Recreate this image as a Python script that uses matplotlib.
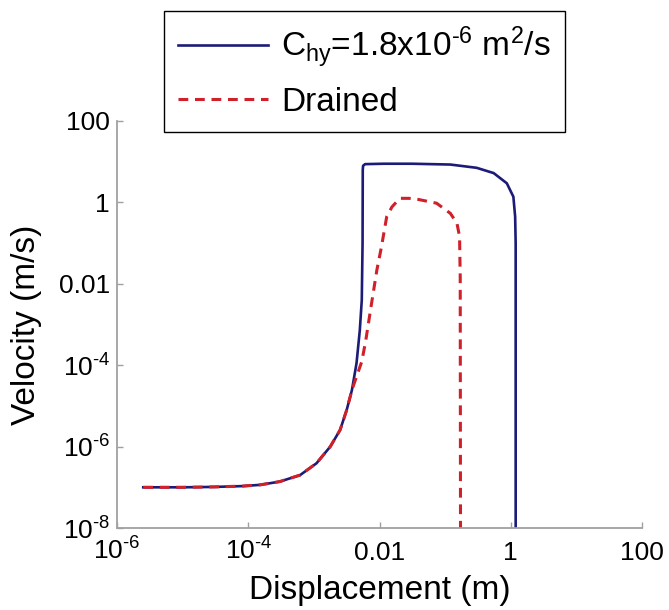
import numpy as np
import matplotlib
matplotlib.use("Agg")
import matplotlib.pyplot as plt

plt.rcParams['font.family'] = ['Liberation Sans', 'DejaVu Sans']
plt.rcParams['mathtext.fontset'] = 'custom'
plt.rcParams['mathtext.rm'] = 'Liberation Sans'
plt.rcParams['mathtext.it'] = 'Liberation Sans'

chy_logx = [-5.60, -5.00, -4.50, -4.08, -3.82, -3.52, -3.21, -2.96, -2.75, -2.60,
            -2.50, -2.42, -2.35, -2.30, -2.27, -2.258, -2.255, -2.25, -2.22, -1.94,
            -1.50, -0.92, -0.52, -0.26, -0.06, 0.04, 0.067, 0.075, 0.075]
chy_logy = [-7.00, -7.00, -6.99, -6.97, -6.94, -6.86, -6.70, -6.41, -6.00, -5.59,
            -5.10, -4.61, -3.95, -3.14, -2.40, -1.00, 0.80, 0.90, 0.94, 0.95,
            0.95, 0.93, 0.85, 0.72, 0.47, 0.14, -0.35, -1.00, -9.0]

drained_logx = [-5.60, -5.00, -4.50, -4.08, -3.82, -3.52, -3.21, -2.96, -2.75, -2.60,
                -2.50, -2.42, -2.35, -2.27, -2.21, -2.12, -2.04, -1.97, -1.89, -1.81,
                -1.69, -1.55, -1.43, -1.13, -0.92, -0.82, -0.78, -0.77, -0.765]
drained_logy = [-7.00, -7.00, -6.99, -6.97, -6.94, -6.86, -6.70, -6.41, -6.00, -5.59,
                -5.10, -4.61, -4.28, -3.91, -3.40, -2.47, -1.66, -1.09, -0.35, -0.11,
                0.10, 0.10, 0.08, -0.02, -0.27, -0.51, -0.84, -1.83, -9.0]

xticks = [1e-6, 1e-4, 1e-2, 1, 100]
xticklabels = [r'$\mathregular{10^{\text{-}6}}$', r'$\mathregular{10^{\text{-}4}}$', '0.01', '1', '100']
yticks = [1e-8, 1e-6, 1e-4, 1e-2, 1, 100]
yticklabels = [r'$\mathregular{10^{\text{-}8}}$', r'$\mathregular{10^{\text{-}6}}$',
               r'$\mathregular{10^{\text{-}4}}$', '0.01', '1', '100']

fig = plt.figure(figsize=(6.69, 6.10), dpi=100)
ax = fig.add_axes([117 / 669, 1 - 528 / 610, (642 - 117) / 669, (528 - 121) / 610])

ax.plot(10 ** np.array(chy_logx), 10 ** np.array(chy_logy), color='#1c1c78', lw=1.9,
        label=r'$\mathregular{C_{hy}}$=1.8x10$\mathregular{^{\text{-}6}}$ m$\mathregular{^{2}}$/s')
ax.plot(10 ** np.array(drained_logx), 10 ** np.array(drained_logy), color='#d0202a', lw=2.2,
        dashes=(3.2, 2.2), label='Drained')

ax.set_xscale('log')
ax.set_yscale('log')
ax.set_xlim(1e-6, 100)
ax.set_ylim(1e-8, 100)
ax.set_xticks(xticks)
ax.set_xticklabels(xticklabels)
ax.set_yticks(yticks)
ax.set_yticklabels(yticklabels)
ax.minorticks_off()

for side in ['top', 'right']:
    ax.spines[side].set_visible(False)
for side in ['left', 'bottom']:
    ax.spines[side].set_color('#a0a0a0')
    ax.spines[side].set_linewidth(1.3)

ax.tick_params(direction='in', length=4, width=1, color='#a0a0a0', labelsize=19)
ax.tick_params(axis='x', pad=23)
ax.tick_params(axis='y', pad=5)
for lab in ax.get_xticklabels():
    lab.set_verticalalignment('baseline')

ax.set_xlabel('Displacement (m)', fontsize=24, labelpad=7)
ax.set_ylabel('Velocity (m/s)', fontsize=24, labelpad=12)

leg = ax.legend(loc='upper left', bbox_to_anchor=(164 / 669, 1 - 11 / 610),
                bbox_transform=fig.transFigure, borderaxespad=0, fontsize=24,
                fancybox=False, framealpha=1, edgecolor='black', handlelength=2.7,
                handletextpad=0.4, borderpad=0.42, labelspacing=0.5)
leg.get_frame().set_linewidth(1.0)

fig.savefig('out.png', dpi=100)
